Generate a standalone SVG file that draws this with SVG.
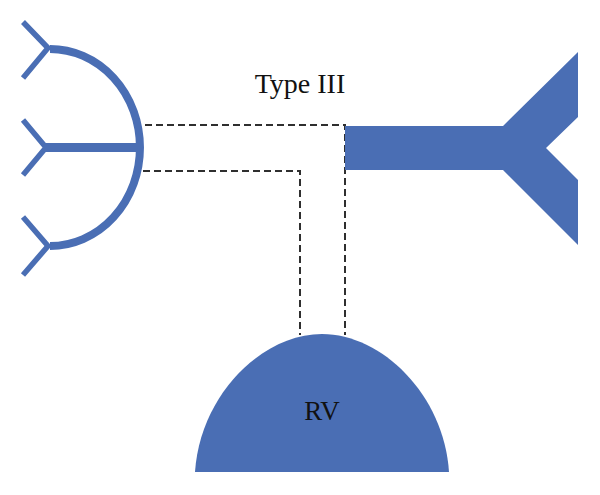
<svg xmlns="http://www.w3.org/2000/svg" width="600" height="495" viewBox="0 0 600 495">
<style>
.blue{fill:#4A6EB4}
.bl{fill:none;stroke:#4A6EB4}
.dash{fill:none;stroke:#2f2f2f;stroke-width:2;stroke-dasharray:7 4}
.lbl{font-family:"Liberation Serif","Times New Roman",serif;fill:#111}
</style>
<rect width="600" height="495" fill="#fff"/>
<g id="connectors">
<polyline class="dash" points="145,125 345,125 345,335"/>
<polyline class="dash" points="143,171 300,171 300,335"/>
</g>
<g id="left-vessel">
<path class="bl" stroke-width="8" d="M50,49 A90,98.5 0 0 1 50,246"/>
<line class="bl" stroke-width="9" x1="44" y1="147.5" x2="140" y2="147.5"/>
<g class="bl" stroke-width="5.5" stroke-linecap="butt">
<polyline points="23,22 48,48 23,78"/>
<polyline points="23,120 46,147.5 23,175"/>
<polyline points="23,217 48,246 23,275"/>
</g>
</g>
<g id="right-vessel">
<polygon class="blue" points="345,126 503,126 578,52 578,117 546,148 578,180 578,245 503,170 345,170"/>
</g>
<g id="rv">
<path class="blue" d="M195,472 C200,395 262,334 322,334 C382,334 444,395 449,472 Z"/>
<text class="lbl" x="322" y="420" font-size="27" text-anchor="middle">RV</text>
</g>
<g id="title">
<text class="lbl" x="300" y="93" font-size="28" text-anchor="middle">Type III</text>
</g>
</svg>
